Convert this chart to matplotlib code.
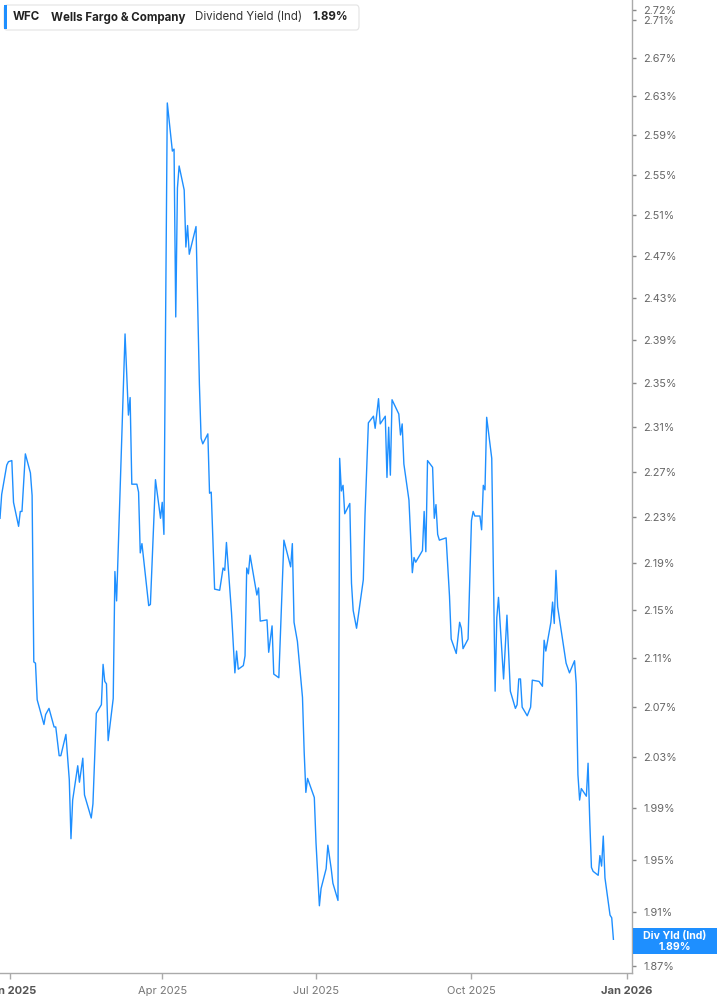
import matplotlib
matplotlib.use("Agg")
import matplotlib.pyplot as plt
from matplotlib.patches import FancyBboxPatch, Rectangle
from matplotlib.ticker import FixedLocator, FuncFormatter, NullLocator
import pandas as pd

# WFC dividend yield (indicated), %
dates = [
    "2024-12-26", "2024-12-27", "2024-12-30", "2024-12-31", "2025-01-02", "2025-01-03",
    "2025-01-06", "2025-01-07", "2025-01-08", "2025-01-10", "2025-01-13", "2025-01-14",
    "2025-01-15", "2025-01-16", "2025-01-17", "2025-01-21", "2025-01-22", "2025-01-24",
    "2025-01-27", "2025-01-28", "2025-01-30", "2025-01-31", "2025-02-03", "2025-02-05",
    "2025-02-06", "2025-02-07", "2025-02-10", "2025-02-11", "2025-02-13", "2025-02-14",
    "2025-02-18", "2025-02-19", "2025-02-21", "2025-02-24", "2025-02-25", "2025-02-26",
    "2025-02-27", "2025-02-28", "2025-03-03", "2025-03-04", "2025-03-05", "2025-03-10",
    "2025-03-12", "2025-03-13", "2025-03-14", "2025-03-17", "2025-03-18", "2025-03-19",
    "2025-03-20", "2025-03-24", "2025-03-25", "2025-03-28", "2025-03-31", "2025-04-01",
    "2025-04-02", "2025-04-04", "2025-04-07", "2025-04-08", "2025-04-09", "2025-04-10",
    "2025-04-11", "2025-04-14", "2025-04-15", "2025-04-16", "2025-04-17", "2025-04-21",
    "2025-04-23", "2025-04-24", "2025-04-25", "2025-04-28", "2025-04-29", "2025-04-30",
    "2025-05-02", "2025-05-05", "2025-05-07", "2025-05-08", "2025-05-09", "2025-05-12",
    "2025-05-14", "2025-05-15", "2025-05-16", "2025-05-19", "2025-05-20", "2025-05-21",
    "2025-05-22", "2025-05-23", "2025-05-27", "2025-05-28", "2025-05-29", "2025-06-02",
    "2025-06-03", "2025-06-05", "2025-06-06", "2025-06-09", "2025-06-12", "2025-06-16",
    "2025-06-17", "2025-06-18", "2025-06-20", "2025-06-23", "2025-06-24", "2025-06-25",
    "2025-06-26", "2025-06-30", "2025-07-01", "2025-07-03", "2025-07-04", "2025-07-07",
    "2025-07-08", "2025-07-10", "2025-07-11", "2025-07-14", "2025-07-15", "2025-07-16",
    "2025-07-17", "2025-07-18", "2025-07-21", "2025-07-22", "2025-07-23", "2025-07-25",
    "2025-07-29", "2025-07-30", "2025-08-01", "2025-08-04", "2025-08-05", "2025-08-07",
    "2025-08-08", "2025-08-11", "2025-08-12", "2025-08-13", "2025-08-14", "2025-08-15",
    "2025-08-19", "2025-08-20", "2025-08-21", "2025-08-22", "2025-08-25", "2025-08-27",
    "2025-08-28", "2025-08-29", "2025-09-02", "2025-09-03", "2025-09-04", "2025-09-05",
    "2025-09-08", "2025-09-09", "2025-09-10", "2025-09-11", "2025-09-12", "2025-09-16",
    "2025-09-18", "2025-09-19", "2025-09-22", "2025-09-24", "2025-09-25", "2025-09-26",
    "2025-09-29", "2025-10-01", "2025-10-02", "2025-10-03", "2025-10-06", "2025-10-07",
    "2025-10-08", "2025-10-09", "2025-10-10", "2025-10-13", "2025-10-15", "2025-10-16",
    "2025-10-17", "2025-10-20", "2025-10-22", "2025-10-24", "2025-10-27", "2025-10-28",
    "2025-10-29", "2025-10-30", "2025-10-31", "2025-11-03", "2025-11-05", "2025-11-06",
    "2025-11-10", "2025-11-12", "2025-11-13", "2025-11-14", "2025-11-17", "2025-11-18",
    "2025-11-19", "2025-11-20", "2025-11-21", "2025-11-26", "2025-11-28", "2025-12-01",
    "2025-12-02", "2025-12-03", "2025-12-04", "2025-12-05", "2025-12-08", "2025-12-09",
    "2025-12-10", "2025-12-11", "2025-12-12", "2025-12-15", "2025-12-16", "2025-12-17",
    "2025-12-18", "2025-12-19", "2025-12-22", "2025-12-23", "2025-12-24",
]
yields = [
    2.229, 2.250, 2.276, 2.279, 2.280, 2.243,
    2.222, 2.235, 2.235, 2.286, 2.269, 2.249,
    2.107, 2.106, 2.076, 2.056, 2.064, 2.069,
    2.054, 2.054, 2.031, 2.031, 2.048, 2.012,
    1.966, 1.996, 2.023, 2.010, 2.029, 2.000,
    1.982, 1.993, 2.065, 2.072, 2.105, 2.091,
    2.089, 2.043, 2.077, 2.183, 2.158, 2.396,
    2.321, 2.337, 2.259, 2.259, 2.252, 2.199,
    2.207, 2.154, 2.155, 2.263, 2.229, 2.243,
    2.215, 2.623, 2.574, 2.576, 2.412, 2.537,
    2.559, 2.535, 2.479, 2.500, 2.472, 2.499,
    2.349, 2.300, 2.295, 2.304, 2.251, 2.252,
    2.168, 2.167, 2.186, 2.184, 2.208, 2.148,
    2.098, 2.116, 2.101, 2.104, 2.112, 2.186,
    2.181, 2.197, 2.163, 2.169, 2.141, 2.142,
    2.115, 2.137, 2.097, 2.094, 2.210, 2.187,
    2.207, 2.140, 2.124, 2.078, 2.034, 2.002,
    2.013, 1.998, 1.963, 1.915, 1.928, 1.943,
    1.961, 1.943, 1.932, 1.919, 2.282, 2.253,
    2.258, 2.233, 2.242, 2.173, 2.150, 2.135,
    2.176, 2.232, 2.314, 2.320, 2.309, 2.336,
    2.313, 2.320, 2.265, 2.310, 2.267, 2.335,
    2.322, 2.303, 2.313, 2.277, 2.245, 2.182,
    2.195, 2.191, 2.201, 2.235, 2.200, 2.280,
    2.274, 2.229, 2.241, 2.215, 2.210, 2.212,
    2.162, 2.126, 2.114, 2.140, 2.135, 2.118,
    2.126, 2.227, 2.235, 2.231, 2.231, 2.219,
    2.258, 2.254, 2.319, 2.282, 2.083, 2.144,
    2.161, 2.093, 2.146, 2.083, 2.069, 2.072,
    2.093, 2.093, 2.070, 2.063, 2.070, 2.092,
    2.091, 2.087, 2.125, 2.116, 2.140, 2.157,
    2.139, 2.184, 2.153, 2.106, 2.098, 2.108,
    2.089, 2.016, 1.996, 2.005, 1.999, 2.025,
    1.980, 1.944, 1.941, 1.938, 1.953, 1.945,
    1.968, 1.936, 1.908, 1.906, 1.890,
]

ytick_vals = [1.87, 1.91, 1.95, 1.99, 2.03, 2.07, 2.11, 2.15, 2.19, 2.23, 2.27,
              2.31, 2.35, 2.39, 2.43, 2.47, 2.51, 2.55, 2.59, 2.63, 2.67, 2.71, 2.72]
xtick_dates = ["2025-01-01", "2025-04-01", "2025-07-01", "2025-10-01", "2026-01-01"]
xtick_labels = ["Jan 2025", "Apr 2025", "Jul 2025", "Oct 2025", "Jan 2026"]

ticker = "WFC"
company = "Wells Fargo & Company"
metric = "Dividend Yield (Ind)"

plt.rcParams['font.family'] = ['Inter', 'DejaVu Sans']

W, H = 717, 1005
fig = plt.figure(figsize=(W / 100, H / 100), dpi=100)


def fx(px):
    return px / W


def fy(py):
    return 1 - py / H


ax = fig.add_axes([0, 32 / H, 632 / W, 1 - 32 / H])
line_color = '#1e8fff'
ax.plot(pd.to_datetime(dates), yields, color=line_color, lw=1.0)

ax.set_yscale('log')
ax.set_ylim(1.8652, 2.731)
ax.set_xlim(pd.Timestamp("2024-12-26"), pd.Timestamp("2026-01-04"))

ax.yaxis.set_major_locator(FixedLocator(ytick_vals))
ax.yaxis.set_minor_locator(NullLocator())
ax.yaxis.set_major_formatter(FuncFormatter(lambda v, p: f"{v:.2f}%"))
ax.yaxis.tick_right()
ax.tick_params(axis='y', length=3, width=1, color='#888888', labelcolor='#666666',
               labelsize=7.8, pad=5)

ax.set_xticks(pd.to_datetime(xtick_dates))
ax.set_xticklabels(xtick_labels)
ax.tick_params(axis='x', length=4, width=1, color='#aaaaaa', labelcolor='#777777',
               labelsize=8, pad=5)
for lab in ax.get_xticklabels():
    if lab.get_text().startswith("Jan"):
        lab.set_fontweight('bold')
        lab.set_color('#555555')

for s in ['top', 'left']:
    ax.spines[s].set_visible(False)
for s in ['right', 'bottom']:
    ax.spines[s].set_color('#aaaaaa')
    ax.spines[s].set_linewidth(1.0)

# header box
fig.add_artist(FancyBboxPatch((fx(4), fy(30)), fx(359) - fx(4), fy(5) - fy(30),
                              boxstyle="round,pad=0,rounding_size=0.004",
                              transform=fig.transFigure, facecolor='white',
                              edgecolor='#e3e3e3', lw=0.8))
fig.add_artist(Rectangle((fx(4), fy(29)), fx(3), fy(5) - fy(29),
                         transform=fig.transFigure, facecolor=line_color, edgecolor='none'))
hy = fy(17.5)
fig.text(fx(12.7), hy, ticker, fontsize=8.3, fontweight='bold', color='#222222', va='center')
fig.text(fx(50.7), hy, company, fontsize=8.3, fontweight='bold', color='#222222', va='center')
fig.text(fx(195), hy, metric, fontsize=8.3, color='#333333', va='center')
fig.text(fx(312.3), hy, f"{yields[-1]:.2f}%", fontsize=8.3, fontweight='bold',
         color='#222222', va='center')

# last value tag
fig.add_artist(Rectangle((fx(633), fy(954)), 1 - fx(633), fy(928.3) - fy(954),
                         transform=fig.transFigure, facecolor=line_color, edgecolor='none'))
fig.text(fx(675), fy(935.7), "Div Yld (Ind)", fontsize=7.6, fontweight='bold',
         color='white', ha='center', va='center')
fig.text(fx(675), fy(946.7), f"{yields[-1]:.2f}%", fontsize=7.6, fontweight='bold',
         color='white', ha='center', va='center')

fig.savefig("out.png", dpi=100)
